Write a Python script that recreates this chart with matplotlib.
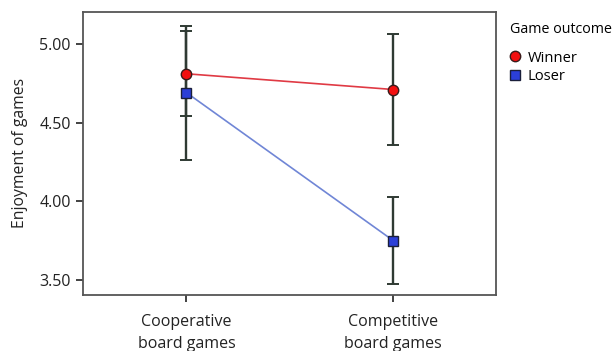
import matplotlib.pyplot as plt
from matplotlib.lines import Line2D

plt.rcParams['font.family'] = ['Open Sans', 'DejaVu Sans']

# Data
categories = ['Cooperative\nboard games', 'Competitive\nboard games']
winner_mean = [4.81, 4.71]
winner_ci = [0.27, 0.355]
loser_mean = [4.69, 3.75]
loser_ci = [0.425, 0.275]

x = range(len(categories))

fig = plt.figure(figsize=(6.16, 3.51), dpi=100)
ax = fig.add_axes([0.135, 0.16, 0.671, 0.806])

bar_col = '#2f3a33'
ax.errorbar(x, winner_mean, yerr=winner_ci, fmt='none', ecolor=bar_col,
            elinewidth=1.7, capsize=4.5, capthick=1.4, zorder=1)
ax.errorbar(x, loser_mean, yerr=loser_ci, fmt='none', ecolor=bar_col,
            elinewidth=1.7, capsize=4.5, capthick=1.4, zorder=1)

ax.plot(x, winner_mean, color='#e03a44', lw=1.2, zorder=2)
ax.plot(x, loser_mean, color='#7086d6', lw=1.2, zorder=2)
ax.plot(x, winner_mean, 'o', ms=7.5, mfc='#f21010', mec='#3a1a1a', mew=1, ls='none', zorder=3)
ax.plot(x, loser_mean, 's', ms=7, mfc='#2b3fd8', mec='#1a1f3a', mew=1, ls='none', zorder=3)

ax.set_xlim(-0.5, 1.5)
ax.set_ylim(3.405, 5.203)
ax.set_yticks([3.5, 4.0, 4.5, 5.0])
ax.set_yticklabels(['3.50', '4.00', '4.50', '5.00'])
ax.set_xticks(list(x))
ax.set_xticklabels(categories, linespacing=1.45)
ax.tick_params(labelsize=11.5, colors='#222222', length=5, width=1.2, pad=4)
ax.tick_params(axis='x', pad=9)
ax.set_ylabel('Enjoyment of games', fontsize=11.3, color='#222222', labelpad=8)

for s in ax.spines.values():
    s.set_color('#555555')
    s.set_linewidth(1.3)

handles = [
    Line2D([], [], marker='o', ls='none', ms=7.5, mfc='#f21010', mec='#3a1a1a', mew=1),
    Line2D([], [], marker='s', ls='none', ms=6.5, mfc='#2b3fd8', mec='#1a1f3a', mew=1),
]
leg = fig.legend(handles, ['Winner', 'Loser'], title='Game outcome',
                 loc='upper left', bbox_to_anchor=(0.818, 0.955), frameon=False,
                 fontsize=10.6, title_fontsize=10.3, handlelength=0.7,
                 handletextpad=0.5, labelspacing=0.25, borderaxespad=0)
leg._legend_box.align = 'left'
leg._legend_box.sep = 10

fig.savefig('out.png', dpi=100)
